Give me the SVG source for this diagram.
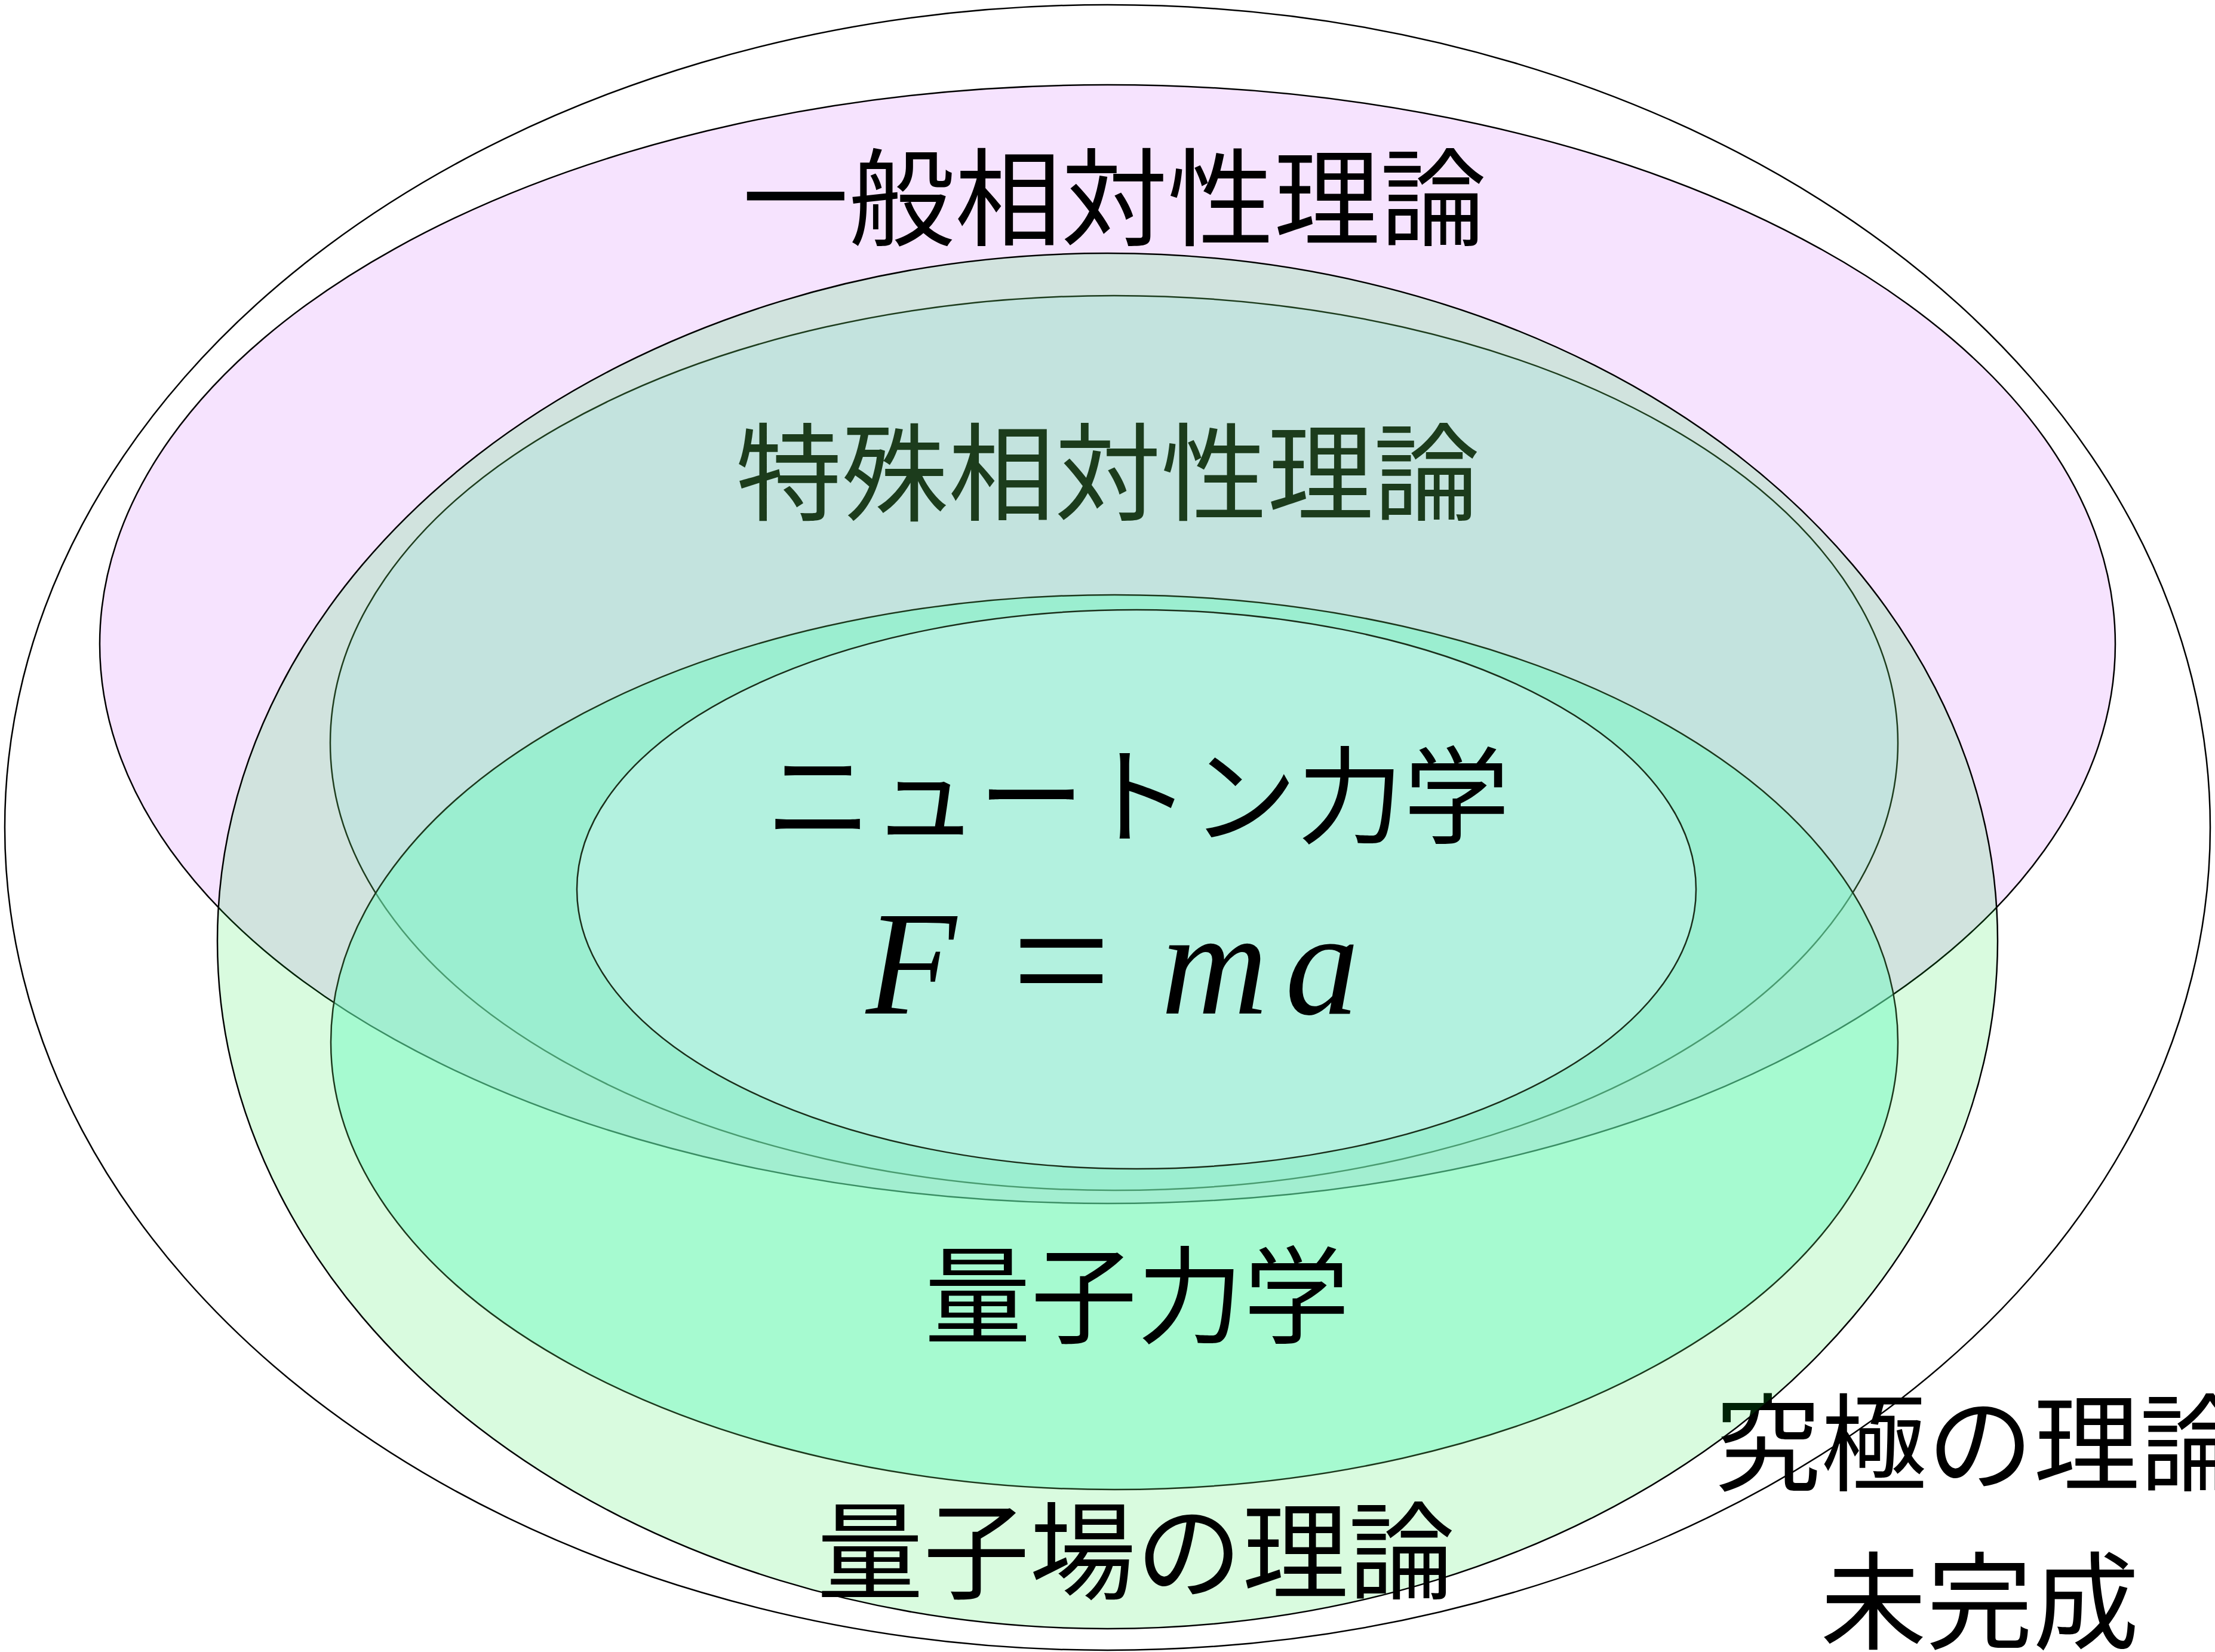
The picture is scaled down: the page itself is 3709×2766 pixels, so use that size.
<svg xmlns="http://www.w3.org/2000/svg" width="3709" height="2766" viewBox="0 0 3709 2766" style="background:#fff">
<style>
.e{stroke-width:2.5}
.outer{fill:#fff;stroke:#000}
.gr{fill:#f6e3fe;stroke:#000}
.qft{fill:rgb(0,230,40);fill-opacity:0.15;stroke:#000}
.sr{fill:rgb(120,230,220);fill-opacity:0.15;stroke:#1e3d1e}
.qm{fill:#74fac1;fill-opacity:0.5;stroke:#1c381c}
.nt{fill:#b3f1df;stroke:#1a2e1a}
.lbl{font-family:"Noto Sans CJK JP","Noto Sans CJK SC",sans-serif;font-size:178px;text-anchor:middle;dominant-baseline:central;fill:#000}
.math{font-family:"Liberation Serif","Times New Roman",serif;font-size:248px;fill:#000}
</style>
<rect width="3709" height="2766" fill="#fff"/>
<g id="ultimate-theory">
<ellipse class="e outer" cx="1854.5" cy="1385.5" rx="1846.5" ry="1377.5"/>
<text class="lbl" x="3316" y="2405">究極の理論</text>
<text class="lbl" x="3315" y="2670">未完成</text>
</g>
<g id="general-relativity">
<ellipse class="e gr" cx="1854.5" cy="1078.5" rx="1687.5" ry="936.5"/>
<text class="lbl" x="1866" y="320">一般相対性理論</text>
</g>
<g id="quantum-field-theory">
<ellipse class="e qft" cx="1854.5" cy="1575.5" rx="1490.5" ry="1151.5"/>
<text class="lbl" x="1902" y="2586">量子場の理論</text>
</g>
<g id="special-relativity">
<ellipse class="e sr" cx="1865.5" cy="1244" rx="1312.5" ry="749"/>
<text class="lbl" x="1855" y="780" style="fill:#1c3c1c">特殊相対性理論</text>
</g>
<g id="quantum-mechanics">
<ellipse class="e qm" cx="1866" cy="1745" rx="1312" ry="749"/>
<text class="lbl" x="1904" y="2158">量子力学</text>
</g>
<g id="newtonian-mechanics">
<ellipse class="e nt" cx="1903" cy="1489" rx="937" ry="468"/>
<text class="lbl" x="1905" y="1321">ニュートン力学</text>
<text class="math" y="1697"><tspan x="1450" font-style="italic">F</tspan><tspan x="1694" y="1707" font-size="295">=</tspan><tspan x="1944" y="1697" font-style="italic">m</tspan><tspan x="2152" font-style="italic">a</tspan></text>
</g>
<g id="connectors"/>
</svg>
